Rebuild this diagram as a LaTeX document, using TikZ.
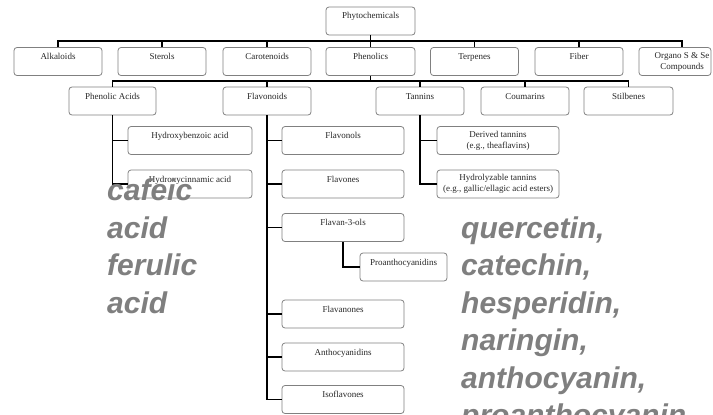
\documentclass[tikz,border=0pt]{standalone}
\usepackage{fontspec}
\setmainfont{Liberation Serif}
\newfontfamily\grayfont{Liberation Sans}
\definecolor{notegray}{HTML}{7F7F7F}
\definecolor{framegray}{HTML}{808080}
\begin{document}
\begin{tikzpicture}[x=1pt,y=-1pt,
  box/.style={draw=framegray, line width=0.8pt, rounded corners=3pt, inner xsep=1pt, inner ysep=1pt,
    text height=11pt, text depth=15pt, font=\fontsize{9}{11}\selectfont, text=black!85},
  box2/.style={draw=framegray, line width=0.8pt, rounded corners=3pt, inner sep=1pt, align=center,
    minimum height=28pt, font=\fontsize{9}{11}\selectfont, text=black!85},
  lbl/.style={inner sep=0pt, align=center, font=\fontsize{9}{11}\selectfont, text=black!85},
  conn/.style={line width=1.6pt, black},
  note/.style={anchor=base west, inner sep=0pt, text=notegray,
    font=\grayfont\bfseries\itshape\fontsize{30}{37.5}\selectfont}]
\useasboundingbox (0,0) rectangle (713,415);

% top
\node[box, minimum width=89pt] (phyto) at (370.5,21) {Phytochemicals};

% row 1
\node[box, minimum width=88pt] (alk)   at (58,61.5)    {Alkaloids};
\node[box, minimum width=88pt] (ster)  at (162,61.5)   {Sterols};
\node[box, minimum width=88pt] (caro)  at (267,61.5)   {Carotenoids};
\node[box, minimum width=89pt] (phen)  at (370.5,61.5) {Phenolics};
\node[box, minimum width=88pt] (terp)  at (474.5,61.5) {Terpenes};
\node[box, minimum width=88pt] (fiber) at (579,61.5)   {Fiber};
\node[box2, minimum width=72pt] (organo) at (675,61.5) {};
\node[lbl] (orgtxt) at (682,61.5) {Organo S \& Se\\Compounds};

% row 2
\node[box, minimum width=87pt] (pacid) at (112.5,101) {Phenolic Acids};
\node[box, minimum width=88pt] (flavd) at (267,101)   {Flavonoids};
\node[box, minimum width=88pt] (tann)  at (420,101)   {Tannins};
\node[box, minimum width=88pt] (coum)  at (525,101)   {Coumarins};
\node[box, minimum width=89pt] (stil)  at (628.5,101) {Stilbenes};

% phenolic acids children
\node[box, minimum width=124pt] (hbenz) at (190,140.5) {Hydroxybenzoic acid};
\node[box, minimum width=124pt] (hcinn) at (190,184)   {Hydroxycinnamic acid};

% flavonoid children
\node[box, minimum width=122pt] (flavol) at (343,140.5) {Flavonols};
\node[box, minimum width=122pt] (flavon) at (343,184)   {Flavones};
\node[box, minimum width=122pt] (flavan) at (343,227.5) {Flavan-3-ols};
\node[box, minimum width=87pt]  (proan)  at (403.5,267) {Proanthocyanidins};
\node[box, minimum width=122pt] (flavnn) at (343,314)   {Flavanones};
\node[box, minimum width=122pt] (antho)  at (343,357)   {Anthocyanidins};
\node[box, minimum width=122pt] (isofl)  at (343,399.5) {Isoflavones};

% tannin children
\node[box2, minimum width=122pt] (derived) at (498,140.5) {Derived tannins\\(e.g., theaflavins)};
\node[box2, minimum width=122pt] (hydrol)  at (498,184)   {Hydrolyzable tannins\\(e.g., gallic/ellagic acid esters)};

% connectors
\coordinate (b1) at (0,41);
\coordinate (b2) at (0,81);
\draw[conn] (phyto.south) -- (phyto.south |- b1);
\draw[conn] (alk.north) -- (alk.north |- b1) -- (orgtxt.north |- b1) -- (orgtxt.north |- organo.north);
\foreach \n in {ster,caro,phen,terp,fiber} \draw[conn] (\n.north) -- (\n.north |- b1);

\draw[conn] (phen.south) -- (phen.south |- b2);
\draw[conn] (pacid.north) |- (stil.north |- b2) -- (stil.north);
\foreach \n in {flavd,tann,coum} \draw[conn] (\n.north) -- (\n.north |- b2);

\draw[conn] (pacid.south) |- (hcinn.west);
\draw[conn] (pacid.south |- hbenz.west) -- (hbenz.west);

\draw[conn] (flavd.south) |- (isofl.west);
\foreach \n in {flavol,flavon,flavan,flavnn,antho} \draw[conn] (flavd.south |- \n.west) -- (\n.west);
\draw[conn] (flavan.south) |- (proan.west);

\draw[conn] (tann.south) |- (hydrol.west);
\draw[conn] (tann.south |- derived.west) -- (derived.west);

% overlay notes
\node[note] (n1) at (107,200.5) {cafeic};
\node[note] (n2) at (107,238)   {acid};
\node[note] (n3) at (107,275.5) {ferulic};
\node[note] (n4) at (107,313)   {acid};

\node[note] (m1) at (461,238)   {quercetin,};
\node[note] (m2) at (461,275.5) {catechin,};
\node[note] (m3) at (461,313)   {hesperidin,};
\node[note] (m4) at (461,350.5) {naringin,};
\node[note] (m5) at (461,388)   {anthocyanin,};
\node[note] (m6) at (461,425.5) {proanthocyanin};
\end{tikzpicture}
\end{document}
